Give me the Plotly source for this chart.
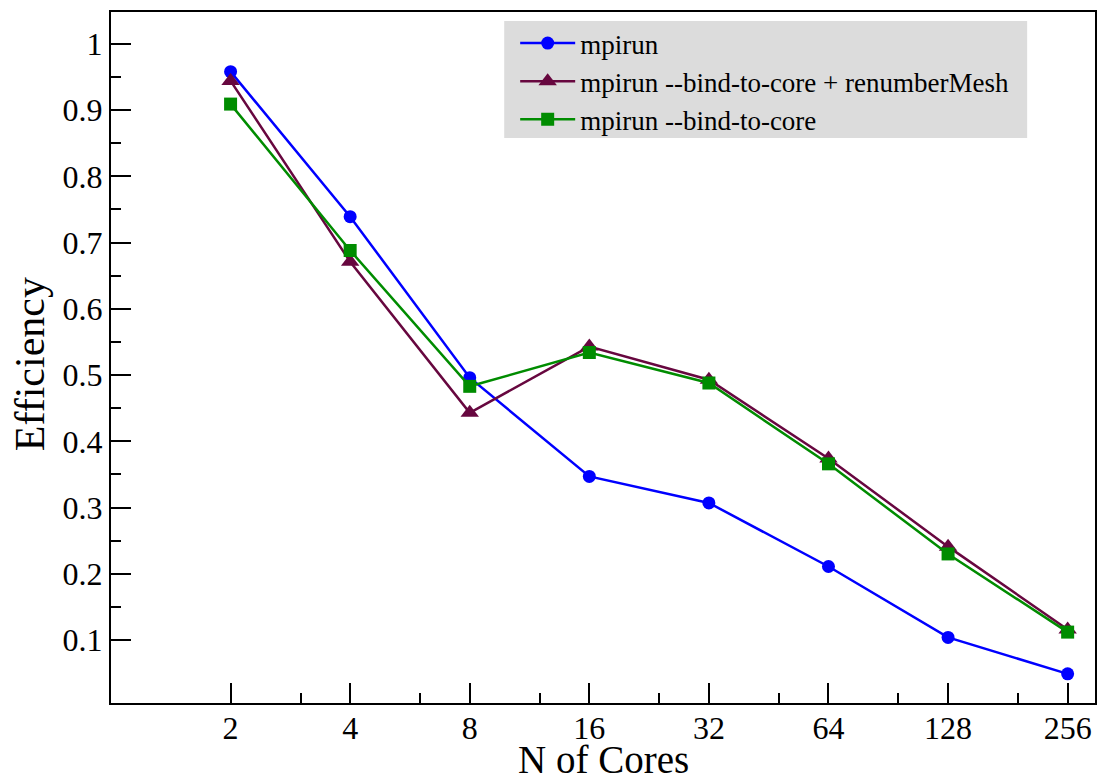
import plotly.graph_objects as go

# Parallel efficiency vs. number of cores for three launch configurations
cores = [2, 4, 8, 16, 32, 64, 128, 256]
eff_mpirun = [0.958, 0.739, 0.496, 0.347, 0.307, 0.211, 0.104, 0.049]
eff_bind_renumber = [0.944, 0.671, 0.443, 0.543, 0.493, 0.374, 0.241, 0.116]
eff_bind = [0.909, 0.688, 0.483, 0.534, 0.488, 0.366, 0.230, 0.112]

x_ticks = [2, 4, 8, 16, 32, 64, 128, 256]
x_minor = [3, 6, 12, 24, 48, 96, 192]
y_ticks = [0.1, 0.2, 0.3, 0.4, 0.5, 0.6, 0.7, 0.8, 0.9, 1.0]
y_tick_text = ["0.1", "0.2", "0.3", "0.4", "0.5", "0.6", "0.7", "0.8", "0.9", "1"]
y_minor = [0.15, 0.25, 0.35, 0.45, 0.55, 0.65, 0.75, 0.85, 0.95]

FONT = "Liberation Serif"
W, H = 1104, 783
ML, MR, MT, MB = 111, 7, 12, 80

fig = go.Figure()

series = [
    ("mpirun", eff_mpirun, "#0000ff", "circle", 13),
    ("mpirun --bind-to-core + renumberMesh", eff_bind_renumber, "#67073f", "triangle-up", 16),
    ("mpirun --bind-to-core", eff_bind, "#008c00", "square", 13),
]
for name, vals, color, symbol, msize in series:
    fig.add_trace(go.Scatter(
        x=cores, y=vals, name=name, mode="lines+markers",
        line=dict(color=color, width=2.5),
        marker=dict(symbol=symbol, size=msize, color=color, line=dict(width=0)),
    ))

axis_common = dict(
    showgrid=False, zeroline=False,
    showline=True, linecolor="black", linewidth=2, mirror=True,
    ticks="inside", ticklen=20, tickwidth=2, tickcolor="black",
    tickfont=dict(family=FONT, size=32, color="black"),
)

fig.update_xaxes(
    type="log", range=[0, 2.4771],
    tickmode="array", tickvals=x_ticks, ticktext=[str(v) for v in x_ticks],
    ticklabelstandoff=-4,
    minor=dict(tickmode="array", tickvals=x_minor, ticks="inside",
               ticklen=10, tickwidth=2, tickcolor="black", showgrid=False),
    **axis_common,
)
fig.update_yaxes(
    range=[0.005, 1.048],
    tickmode="array", tickvals=y_ticks, ticktext=y_tick_text,
    minor=dict(tickmode="array", tickvals=y_minor, ticks="inside",
               ticklen=10, tickwidth=2, tickcolor="black", showgrid=False),
    **axis_common,
)

pw = W - ML - MR
ph = H - MT - MB


def px_x(p):
    return (p - ML) / pw


def px_y(p):
    return (H - MB - p) / ph


# Gray legend panel
fig.add_shape(type="rect", xref="paper", yref="paper",
              x0=px_x(505), x1=px_x(1029), y0=px_y(138), y1=px_y(21),
              fillcolor="#dcdcdc", line=dict(width=0), layer="below")

fig.update_layout(
    width=W, height=H,
    margin=dict(l=ML, r=MR, t=MT, b=MB),
    paper_bgcolor="white", plot_bgcolor="rgba(0,0,0,0)",
    font=dict(family=FONT, color="black"),
    legend=dict(
        x=px_x(516), y=px_y(19), xanchor="left", yanchor="top",
        bgcolor="rgba(0,0,0,0)", borderwidth=0,
        font=dict(family=FONT, size=27, color="black"),
        itemwidth=55,
    ),
    annotations=[
        dict(text="N of Cores", xref="paper", yref="paper",
             x=0.5, y=px_y(783), xanchor="center", yanchor="bottom",
             showarrow=False, font=dict(family=FONT, size=39, color="black")),
        dict(text="Efficiency", xref="paper", yref="paper",
             x=px_x(30), y=px_y(364), xanchor="center", yanchor="middle",
             textangle=-90, showarrow=False,
             font=dict(family=FONT, size=42, color="black")),
    ],
)

fig.write_html("out.html")
